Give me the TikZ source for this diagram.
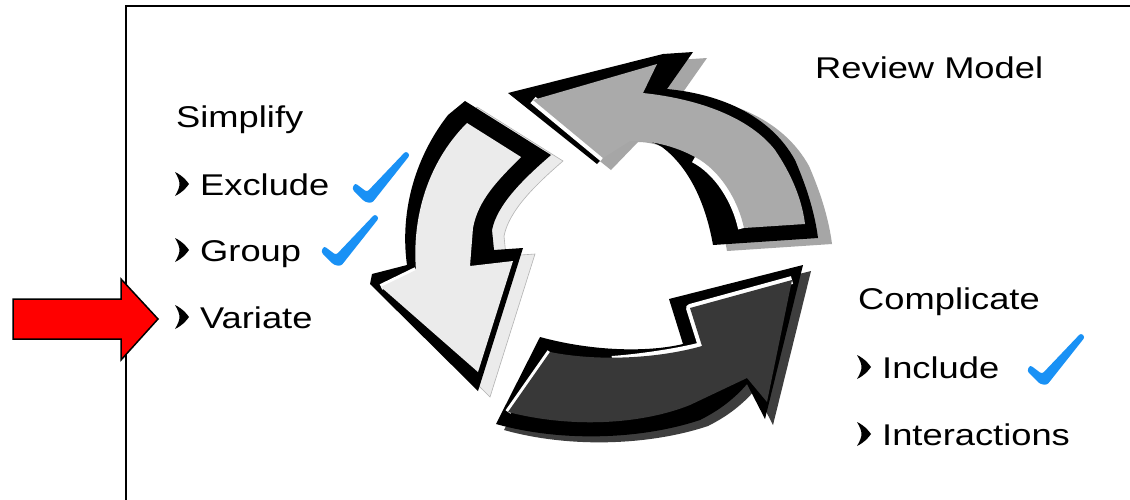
\documentclass[tikz,border=0pt]{standalone}
\usepackage{fontspec}
\setmainfont{Liberation Sans}[FakeStretch=1.21]
\definecolor{tickblue}{RGB}{25,145,245}
\definecolor{lightfill}{RGB}{235,235,235}
\definecolor{midfill}{RGB}{170,170,170}
\definecolor{midshadow}{RGB}{166,166,166}
\definecolor{darkfill}{RGB}{56,56,56}
\definecolor{darkshadow}{RGB}{62,62,62}

% outlines (black bodies) and faces of the three cycle arrows
\newcommand\silA{(465,101) -- (551,155) .. controls (522,180) and (497,205) .. (492,230) -- (494,250) -- (523,248) -- (478,391) -- (370,284) -- (372,274) -- (407,265) .. controls (400,215) and (413,160) .. (448,115) -- cycle}
\newcommand\faceA{(467,123) -- (521,157) .. controls (498,180) and (478,200) .. (473,228) -- (470,266) -- (513,261) -- (478,372) -- (381,287) -- (416,270) .. controls (412,222) and (425,165) .. (467,123) -- cycle}
\newcommand\silB{(508,93) -- (663,54) -- (693,52) -- (667,89) .. controls (720,94) and (770,115) .. (795,160) .. controls (808,190) and (815,215) .. (818,238) -- (713,245) .. controls (706,205) and (690,168) .. (662,147) .. controls (648,139) and (635,136) .. (624,136) -- (597,164) -- cycle}
\newcommand\faceB{(533,100) -- (657,64) -- (643,93) .. controls (700,99) and (750,118) .. (775,150) .. controls (792,175) and (802,200) .. (805,224) -- (744,228) .. controls (738,200) and (720,170) .. (695,157) .. controls (675,146) and (650,140) .. (630,141) -- (603,158) -- cycle}
\newcommand\silC{(803,265) -- (669,299) -- (683,344) .. controls (650,352) and (595,352) .. (540,337) -- (496,424) .. controls (560,442) and (640,440) .. (700,420) .. controls (720,410) and (735,398) .. (747,384) -- (765,419) -- cycle}
\newcommand\faceC{(792,280) -- (690,308) -- (702,346) .. controls (660,358) and (600,362) .. (550,352) -- (508,412) .. controls (570,428) and (640,425) .. (690,405) -- (747,378) -- (767,402) -- cycle}

\tikzset{
  txt/.style={anchor=base west, inner sep=0pt, font=\fontsize{30}{36}\selectfont},
  bul/.pic={\fill (0,-12) .. controls (8,-8) and (11,-4) .. (14,0) .. controls (11,4) and (8,8) .. (0,12) .. controls (3,7) and (4.5,3) .. (4.5,0) .. controls (4.5,-3) and (3,-7) .. (0,-12) -- cycle;},
  tick/.pic={\fill[tickblue, rounded corners=2.5] (-13,-18) -- (-1,-9) -- (38,-50) -- (42,-46) -- (4,2) -- (-3,1) -- (-16,-12) -- cycle;},
  hilite/.style={white, line join=round}
}

\begin{document}
\begin{tikzpicture}[x=1pt,y=-1pt]
\useasboundingbox (0,0) rectangle (1130,499);
\fill[white] (0,0) rectangle (1130,499);

% frame
\draw[line width=2.5pt] (126,505) -- (126,6) -- (1136,6);

% pointer
\draw[fill=red, line width=1.5pt, line join=miter] (13,299) -- (121,299) -- (121,279) -- (158,319) -- (121,360) -- (121,339) -- (13,339) -- cycle;

% drop shadows
\begin{scope}[shift={(12,6)}]
  \filldraw[fill=lightfill, draw=gray!60, line width=0.6pt] \silA;
\end{scope}
\begin{scope}[shift={(14,6)}]
  \fill[midshadow] \silB;
\end{scope}
\begin{scope}[shift={(8,6)}]
  \fill[darkshadow] \silC;
\end{scope}

% light arrow
\fill[black] \silA;
\draw[hilite, line width=6pt] (416,270) -- (381,287);
\fill[lightfill] \faceA;

% mid-grey arrow
\fill[black] \silB;
\draw[hilite, line width=8pt] (533,100) -- (603,158);
\draw[hilite, line width=12pt] (744,228) .. controls (738,200) and (720,170) .. (695,157);
\fill[midfill] \faceB;

% dark arrow
\fill[black] \silC;
\draw[hilite, line width=8pt] (792,280) -- (690,308) -- (702,346) .. controls (680,352) and (640,358) .. (612,360);
\draw[hilite, line width=6pt] (550,352) -- (508,412);
\fill[darkfill] \faceC;

% labels
\node[txt] (review) at (815,78) {Review Model};
\node[txt] (simplify) at (176,127) {Simplify};
\node[txt] (exclude) at (200,195) {Exclude};
\node[txt] (group) at (200,261) {Group};
\node[txt] (variate) at (200,328) {Variate};
\node[txt] (complicate) at (858,309) {Complicate};
\node[txt] (include) at (882,378) {Include};
\node[txt] (interactions) at (882,445) {Interactions};

% bullets
\pic at (175,184) {bul};
\pic at (175,250) {bul};
\pic at (175,317) {bul};
\pic at (857,367) {bul};
\pic at (857,434) {bul};

% check marks
\pic at (368,201) {tick};
\pic at (337,264) {tick};
\pic at (1043,383) {tick};
\end{tikzpicture}
\end{document}
